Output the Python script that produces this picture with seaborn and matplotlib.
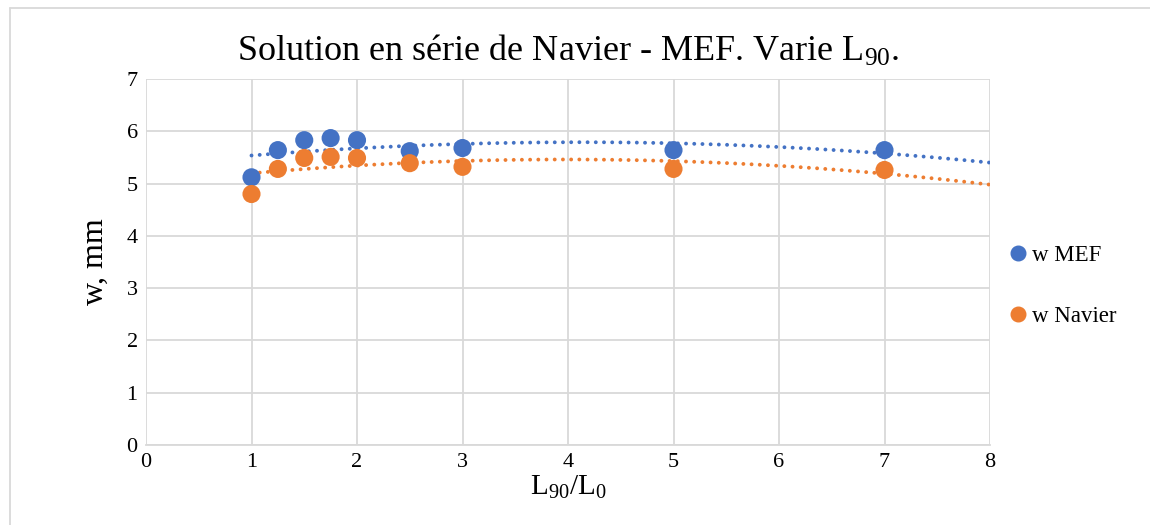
import numpy as np
import pandas as pd
import matplotlib
matplotlib.use("Agg")
import matplotlib.pyplot as plt
import seaborn as sns
from matplotlib.lines import Line2D

ratio = [1, 1.25, 1.5, 1.75, 2, 2.5, 3, 5, 7]
w_mef = [5.12, 5.64, 5.83, 5.87, 5.83, 5.62, 5.68, 5.64, 5.64]
w_navier = [4.80, 5.28, 5.49, 5.51, 5.49, 5.39, 5.32, 5.28, 5.26]
series_names = ["w MEF", "w Navier"]
colors = ["#4472C4", "#ED7D31"]

sns.set_theme(style="white")
plt.rcParams['font.family'] = ['Liberation Serif', 'DejaVu Serif']
plt.rcParams['mathtext.fontset'] = 'custom'
plt.rcParams['mathtext.rm'] = 'Liberation Serif'
plt.rcParams['mathtext.it'] = 'Liberation Serif:italic'
plt.rcParams['text.color'] = 'black'
plt.rcParams['axes.labelcolor'] = 'black'

df = pd.DataFrame({
    "x": ratio * 2,
    "w": w_mef + w_navier,
    "serie": [series_names[0]] * len(ratio) + [series_names[1]] * len(ratio),
})

fig = plt.figure(figsize=(11.5, 5.25), dpi=100)
ax = fig.add_axes([146/1150, 1 - 445/525, (990-146)/1150, (445-79)/525])

# trendlines (polynomial order 2)
xt = np.linspace(1, 8, 200)
for name, vals, c in zip(series_names, [w_mef, w_navier], colors):
    p = np.polyfit(ratio, vals, 2)
    tdf = pd.DataFrame({"x": xt, "w": np.polyval(p, xt)})
    sns.lineplot(data=tdf, x="x", y="w", ax=ax, color=c, lw=2.8,
                 linestyle=(0, (0.01, 2.1)), dash_capstyle='round', legend=False)

sns.scatterplot(data=df, x="x", y="w", hue="serie", palette=colors, ax=ax,
                s=170, edgecolor="none", legend=False, zorder=3)

ax.set_xlim(0, 8)
ax.set_ylim(0, 7)
ax.set_xticks(range(0, 9))
ax.set_yticks(range(0, 8))
ax.grid(True, color="#D9D9D9", lw=1.3)
for s in ["top", "right", "left"]:
    ax.spines[s].set_visible(False)
ax.spines["bottom"].set_color("#D9D9D9")
ax.spines["bottom"].set_linewidth(1.3)
ax.tick_params(axis='both', labelsize=16, length=0, pad=6, colors="#000000")
ax.set_xlabel(r"L$_{90}$/L$_0$", fontsize=21, labelpad=1)
ax.set_ylabel("w, mm", fontsize=23, labelpad=12)
ax.set_title(r"Solution en série de Navier - MEF. Varie L$_{90}$.", fontsize=26, pad=13)

handles = [Line2D([], [], marker='o', color=c, linestyle='none', markersize=10.5)
           for c in colors]
fig.legend(handles, series_names, loc='upper left', bbox_to_anchor=(984/1150, 1 - 224/525),
           frameon=False, fontsize=16.5, handletextpad=0.0, labelspacing=1.75,
           handlelength=1.2)

# chart border
fig.add_artist(Line2D([10/1150, 1], [1 - 8/525, 1 - 8/525], color="#D9D9D9", lw=1.3))
fig.add_artist(Line2D([10/1150, 10/1150], [0, 1 - 8/525], color="#D9D9D9", lw=1.3))

fig.savefig("out.png", dpi=100)
